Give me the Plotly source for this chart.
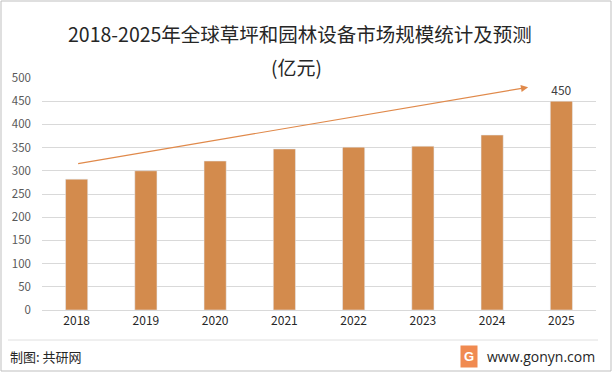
import plotly.graph_objects as go

years = ["2018", "2019", "2020", "2021", "2022", "2023", "2024", "2025"]
values = [282, 300, 321, 347, 351, 353, 377, 450]
bar_labels = ["", "", "", "", "", "", "", "450"]
y_ticks = [0, 50, 100, 150, 200, 250, 300, 350, 400, 450, 500]

title_text = "2018-2025年全球草坪和园林设备市场规模统计及预测"
unit_text = "(亿元)"
source_text = "制图: 共研网"
site_text = "www.gonyn.com"

bar_color = "#D38B4D"
arrow_color = "#E0894A"
font_cjk = "Noto Sans CJK SC"

W, H, L, R, T, B = 613, 373, 42, 17, 78, 63
ph = H - T - B
pw = W - L - R


def py(pix):
    return (H - B - pix) / ph


def px(pix):
    return (pix - L) / pw


fig = go.Figure()
fig.add_trace(go.Bar(
    x=years, y=values, marker_color=bar_color, width=0.32,
    text=bar_labels, textposition="outside", cliponaxis=False,
    textfont=dict(size=12, color="#404040", family=font_cjk),
))

# trend arrow
fig.add_annotation(
    x=6.52, y=480, ax=0, ay=315, xref="x", yref="y", axref="x", ayref="y",
    showarrow=True, arrowhead=2, arrowsize=1.2, arrowwidth=1.2,
    arrowcolor=arrow_color, text="",
)


def label(text, x, y, xanchor="center", size=13, family=font_cjk, **kw):
    fig.add_annotation(text=text, x=px(x), y=py(y), xref="paper", yref="paper",
                       xanchor=xanchor, yanchor="middle", showarrow=False,
                       font=dict(size=size, color="#262626", family=family), **kw)


label(title_text, 300, 33, size=19.5)
label(unit_text, 296, 66, size=19)
label(source_text, 8, 356, xanchor="left", size=13)
label(site_text, 597, 356, xanchor="right", size=14, family="Open Sans")
fig.add_annotation(text="<b>G</b>", x=px(469), y=py(356), xref="paper", yref="paper",
                   xanchor="center", yanchor="middle", showarrow=False,
                   bgcolor="#F08A50", borderpad=3,
                   font=dict(size=13, color="white", family="Arial"))

fig.update_layout(
    width=W, height=H,
    margin=dict(l=L, r=R, t=T, b=B),
    paper_bgcolor="white", plot_bgcolor="white",
    showlegend=False, bargap=0.68,
    xaxis=dict(type="category", showgrid=False, showline=True, linecolor="#D9D9D9",
               ticks="", tickfont=dict(size=12, color="#262626", family=font_cjk)),
    yaxis=dict(range=[0, 500], tickvals=y_ticks, showgrid=True, gridcolor="#D9D9D9",
               zeroline=False, ticks="", ticklabelstandoff=10,
               tickfont=dict(size=11.5, color="#595959", family=font_cjk)),
    shapes=[
        dict(type="rect", xref="paper", yref="paper", x0=px(1), x1=px(611), y0=py(371), y1=py(1),
             line=dict(color="#BFBFBF", width=1)),
        dict(type="line", xref="paper", yref="paper", x0=px(8), x1=px(598), y0=py(340), y1=py(340),
             line=dict(color="#E0E0E0", width=1)),
    ],
)

fig.write_html("out.html", config={"displayModeBar": False},
               post_script="document.body.style.margin='0px';")
